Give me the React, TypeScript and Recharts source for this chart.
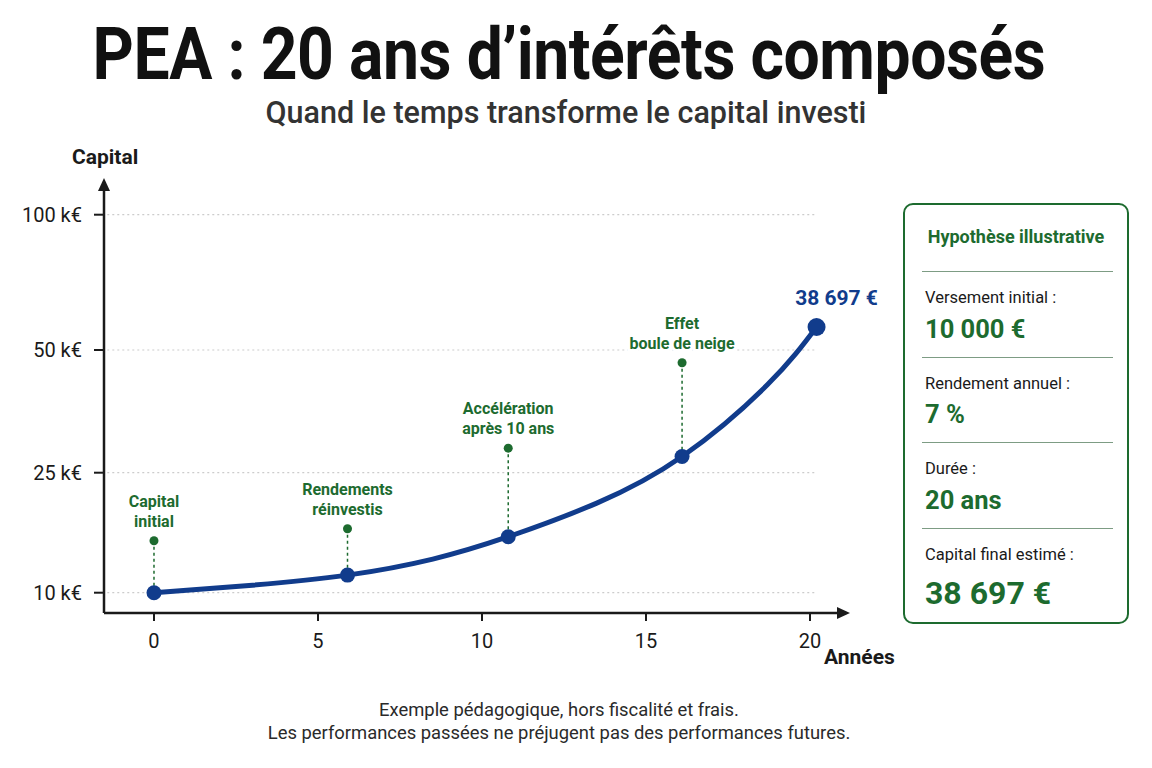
import { LineChart, Line, XAxis, YAxis, ReferenceLine, ReferenceDot } from "recharts";

// Courbe (années, capital en €)
const YEARS = [0, 2.9, 5.9, 8.5, 10.8, 13.5, 16.1, 18.7, 20.2];
const CAPITAL = [10000, 10900, 12200, 14200, 17000, 21200, 28300, 42900, 58500];
// indices des points mis en avant (gros points bleus)
const MILESTONES = [0, 2, 4, 6, 8];

const ANNOTATION_LABELS = [
  ["Capital", "initial"],
  ["Rendements", "réinvestis"],
  ["Accélération", "après 10 ans"],
  ["Effet", "boule de neige"],
];
// hauteur (en €) des petites pastilles vertes
const ANNOTATION_ANCHORS = [16500, 18000, 30000, 47400];
const FINAL_LABEL = "38 697 €";

const X_TICKS = [0, 5, 10, 15, 20];
const Y_TICKS = [10000, 25000, 50000, 100000];
const Y_TICK_LABELS = ["10 k€", "25 k€", "50 k€", "100 k€"];
// l'axe vertical n'est pas linéaire : écart visuel entre graduations
const Y_TICK_GAPS = [120, 122.7, 135.3];

const HYPOTHESES = [
  { label: "Versement initial :", value: "10 000 €" },
  { label: "Rendement annuel :", value: "7 %" },
  { label: "Durée :", value: "20 ans" },
  { label: "Capital final estimé :", value: "38 697 €" },
];

const BLUE = "#113c8c";
const GREEN = "#1d6b2f";
const INK = "#1a1a1a";
const FONT = "Roboto, sans-serif";

const X_DOMAIN = [-1.524, 20.976];
const Y_DOMAIN = [7463, 110606];

const data = YEARS.map((year, i) => ({ year, capital: CAPITAL[i] }));

// échelle par morceaux, au format d3 (copy/domain/range)
function stepScale() {
  const pos = [0];
  Y_TICK_GAPS.forEach((g, i) => pos.push(pos[i] + g));
  const n = Y_TICKS.length;
  const toPos = (v: number) => {
    let i = 0;
    while (i < n - 2 && v > Y_TICKS[i + 1]) i++;
    const t = (v - Y_TICKS[i]) / (Y_TICKS[i + 1] - Y_TICKS[i]);
    return pos[i] + t * (pos[i + 1] - pos[i]);
  };
  const build = (dom: number[], rng: number[]): any => {
    const s: any = (v: number) => {
      const a = toPos(dom[0]);
      const b = toPos(dom[dom.length - 1]);
      return rng[0] + ((toPos(v) - a) / (b - a)) * (rng[rng.length - 1] - rng[0]);
    };
    s.domain = (d?: number[]) => {
      if (d === undefined) return dom;
      dom = d.slice();
      return s;
    };
    s.range = (r?: number[]) => {
      if (r === undefined) return rng;
      rng = r.slice();
      return s;
    };
    s.copy = () => build(dom.slice(), rng.slice());
    s.ticks = () => Y_TICKS;
    return s;
  };
  return build([Y_TICKS[0], Y_TICKS[n - 1]], [0, 1]);
}

const yScale = stepScale();

const renderDot = (p: any) => {
  const { cx, cy, index } = p;
  const m = MILESTONES.indexOf(index);
  if (m < 0) return <g key={`d${index}`} />;
  const last = m === MILESTONES.length - 1;
  return (
    <g key={`d${index}`}>
      <circle cx={cx} cy={cy} r={last ? 9 : 7.5} fill={BLUE} />
      {last && (
        <text x={cx + 20} y={cy - 22} textAnchor="middle" fontFamily={FONT} fontSize={21} fontWeight={700} fill={BLUE}>
          {FINAL_LABEL}
        </text>
      )}
    </g>
  );
};

const annotationShape = (lines: string[]) => (p: any) => (
  <g>
    <circle cx={p.cx} cy={p.cy} r={4.5} fill={GREEN} />
    {lines.map((t, i) => (
      <text
        key={t}
        x={p.cx}
        y={p.cy - 34 + i * 20}
        textAnchor="middle"
        fontFamily={FONT}
        fontSize={16}
        fontWeight={700}
        fill={GREEN}
        stroke="#fff"
        strokeWidth={6}
        paintOrder="stroke"
      >
        {t}
      </text>
    ))}
  </g>
);

function Panel() {
  const top = (c: number, lh: number) => c - lh / 2 - 2;
  return (
    <div
      style={{
        position: "absolute",
        left: 903,
        top: 203,
        width: 226,
        height: 421,
        boxSizing: "border-box",
        border: `2px solid ${GREEN}`,
        borderRadius: 10,
        fontFamily: FONT,
      }}
    >
      <div style={{ position: "absolute", left: 0, width: 222, top: top(34, 22), lineHeight: "22px", textAlign: "center", fontSize: 18, fontWeight: 700, color: GREEN }}>
        Hypothèse illustrative
      </div>
      {HYPOTHESES.map((h, i) => {
        const sep = 68 + 85.7 * i;
        const last = i === HYPOTHESES.length - 1;
        const fs = last ? 32 : 25.5;
        return (
          <div key={h.label}>
            <div style={{ position: "absolute", left: 17, width: 191, top: sep - 2, height: 0, borderTop: "1.5px solid #7d9c84" }} />
            <div style={{ position: "absolute", left: 20, top: top(sep + 27, 20), lineHeight: "20px", fontSize: 16.5, color: INK, whiteSpace: "nowrap" }}>
              {h.label}
            </div>
            <div style={{ position: "absolute", left: 20, top: top(sep + (last ? 65 : 58), fs * 1.2), lineHeight: `${fs * 1.2}px`, fontSize: fs, fontWeight: 700, color: GREEN, whiteSpace: "nowrap" }}>
              {h.value}
            </div>
          </div>
        );
      })}
    </div>
  );
}

export default function App() {
  const lastYear = YEARS[YEARS.length - 1];
  return (
    <div style={{ position: "absolute", left: 0, top: 0, width: 1152, height: 768, background: "#fff", overflow: "hidden", fontFamily: FONT }}>
      <svg width={0} height={0} style={{ position: "absolute" }}>
        <defs>
          <marker id="arrowHead" markerUnits="userSpaceOnUse" markerWidth={13} markerHeight={12} viewBox="0 0 13 12" refX={5} refY={6} orient="auto-start-reverse">
            <path d="M0,0 L13,6 L0,12 z" fill={INK} />
          </marker>
        </defs>
      </svg>

      <div style={{ position: "absolute", left: -7, top: 10, width: 1152, textAlign: "center", fontSize: 73, lineHeight: "88px", fontWeight: 700, color: "#111", transform: "scaleX(0.88)", letterSpacing: -0.5, whiteSpace: "nowrap" }}>
        PEA : 20 ans d’intérêts composés
      </div>
      <div style={{ position: "absolute", left: -10, top: 95, width: 1152, textAlign: "center", fontSize: 30.5, lineHeight: "36px", fontWeight: 500, color: "#333", whiteSpace: "nowrap" }}>
        Quand le temps transforme le capital investi
      </div>

      <div style={{ position: "absolute", left: 0, top: 0 }}>
        <LineChart width={1152} height={768} data={data} margin={{ top: 186, right: 310, bottom: 125, left: 20 }}>
          <XAxis
            type="number"
            dataKey="year"
            domain={X_DOMAIN}
            ticks={X_TICKS}
            tickSize={8}
            tickMargin={13}
            tick={{ fontSize: 20, fill: INK, fontFamily: FONT }}
            tickLine={{ stroke: INK, strokeWidth: 2 }}
            axisLine={{ stroke: INK, strokeWidth: 2.5, markerEnd: "url(#arrowHead)" }}
          />
          <YAxis
            type="number"
            dataKey="capital"
            width={84}
            scale={yScale}
            domain={Y_DOMAIN}
            ticks={Y_TICKS}
            tickFormatter={(v: number) => Y_TICK_LABELS[Y_TICKS.indexOf(v)]}
            tickSize={10}
            tickMargin={12}
            tick={{ fontSize: 20, fill: INK, fontFamily: FONT }}
            tickLine={{ stroke: INK, strokeWidth: 2 }}
            axisLine={{ stroke: INK, strokeWidth: 2.5, markerStart: "url(#arrowHead)" }}
          />
          {Y_TICKS.map((v) => (
            <ReferenceLine
              key={`g${v}`}
              segment={[
                { x: X_DOMAIN[0] + 0.1, y: v },
                { x: lastYear, y: v },
              ]}
              stroke="#cccccc"
              strokeWidth={1.2}
              strokeDasharray="2 3"
            />
          ))}
          {ANNOTATION_ANCHORS.map((a, k) => {
            const idx = MILESTONES[k];
            return (
              <ReferenceLine
                key={`a${k}`}
                segment={[
                  { x: YEARS[idx], y: a },
                  { x: YEARS[idx], y: CAPITAL[idx] },
                ]}
                stroke={GREEN}
                strokeWidth={1.5}
                strokeDasharray="3 3"
              />
            );
          })}
          {ANNOTATION_ANCHORS.map((a, k) => (
            <ReferenceDot key={`p${k}`} x={YEARS[MILESTONES[k]]} y={a} r={4.5} shape={annotationShape(ANNOTATION_LABELS[k])} />
          ))}
          <Line
            type="natural"
            dataKey="capital"
            stroke={BLUE}
            strokeWidth={5}
            dot={renderDot}
            activeDot={false}
            isAnimationActive={false}
          />
        </LineChart>
      </div>

      <div style={{ position: "absolute", left: 72, top: 144, fontSize: 21, lineHeight: "26px", fontWeight: 700, color: INK }}>Capital</div>
      <div style={{ position: "absolute", left: 824, top: 644, fontSize: 21, lineHeight: "26px", fontWeight: 700, color: INK }}>Années</div>

      <Panel />

      <div style={{ position: "absolute", left: -17, top: 698, width: 1152, textAlign: "center", fontSize: 18.4, lineHeight: "23px", color: "#2a2a2a" }}>
        Exemple pédagogique, hors fiscalité et frais.
        <br />
        Les performances passées ne préjugent pas des performances futures.
      </div>
    </div>
  );
}
